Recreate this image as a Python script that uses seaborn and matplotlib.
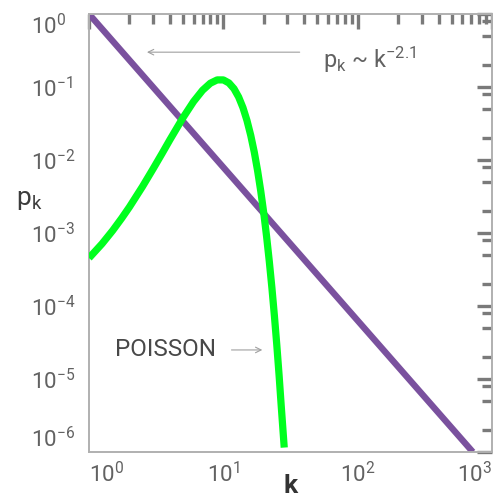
import numpy as np
import pandas as pd
import matplotlib
matplotlib.use("Agg")
import matplotlib.pyplot as plt
import seaborn as sns

# ---- data ----
power_k = [1.0, 10.0, 100.0, 720.0]
power_p = [1.0, 7.94e-3, 6.31e-5, 1.0e-6]

poisson_k = [1.0, 1.25, 1.5, 1.75, 2.0, 2.5, 3.0, 3.5, 4.0, 5.0, 6.0, 7.0, 8.0,
             9.0, 10.0, 11.0, 12.0, 13.0, 14.0, 15.0, 16.0, 17.0, 18.0, 19.0,
             20.0, 21.0, 22.0, 23.0, 24.0, 25.0, 26.0, 27.0, 28.4]
poisson_p = [4.54e-4, 7.12e-4, 1.08e-3, 1.59e-3, 2.27e-3, 4.32e-3, 7.57e-3, 1.23e-2,
             1.89e-2, 3.78e-2, 6.31e-2, 9.01e-2, 0.1126, 0.1251, 0.1251, 0.1137,
             0.0948, 0.0729, 0.0521, 0.0347, 0.0217, 0.0128, 7.09e-3, 3.73e-3,
             1.87e-3, 8.89e-4, 4.04e-4, 1.76e-4, 7.32e-5, 2.93e-5, 1.13e-5,
             4.17e-6, 1.15e-6]

x_ticks = [1, 10, 100, 1000]
x_tick_labels = [r"$\mathrm{10^{0}}$", r"$\mathrm{10^{1}}$", r"$\mathrm{10^{2}}$", r"$\mathrm{10^{3}}$"]
y_ticks = [1, 1e-1, 1e-2, 1e-3, 1e-4, 1e-5, 1e-6]
y_tick_labels = [r"$\mathrm{10^{0}}$", r"$\mathrm{10^{-1}}$", r"$\mathrm{10^{-2}}$", r"$\mathrm{10^{-3}}$",
                 r"$\mathrm{10^{-4}}$", r"$\mathrm{10^{-5}}$", r"$\mathrm{10^{-6}}$"]

# ---- style ----
sns.set_style("white")
plt.rcParams["font.family"] = ["Roboto", "DejaVu Sans"]
plt.rcParams["mathtext.fontset"] = "custom"
plt.rcParams["mathtext.rm"] = "Roboto"
plt.rcParams["mathtext.it"] = "Roboto"
plt.rcParams["mathtext.bf"] = "Roboto:bold"

TXT = "#626262"
TICK = "#7a7a7a"
SPINE = "#b0b0b0"

fig = plt.figure(figsize=(4.93, 5.0), dpi=100)
ax = fig.add_axes([89 / 493, 48 / 500, (492 - 89) / 493, (452 - 14) / 500])

df_pow = pd.DataFrame({"k": power_k, "p": power_p})
df_poi = pd.DataFrame({"k": poisson_k, "p": poisson_p})

sns.lineplot(data=df_pow, x="k", y="p", ax=ax, color="#7a519e", linewidth=4.6,
             solid_capstyle="butt", zorder=2)
sns.lineplot(data=df_poi, x="k", y="p", ax=ax, color="#00ff1e", linewidth=5.2,
             solid_capstyle="butt", zorder=3)

ax.set_xscale("log")
ax.set_yscale("log")
ax.set_xlim(1, 1000)
ax.set_ylim(1e-6, 1)

# ticks
from matplotlib.ticker import FixedLocator, FixedFormatter, NullFormatter
ax.xaxis.set_major_locator(FixedLocator(x_ticks))
ax.xaxis.set_major_formatter(FixedFormatter(x_tick_labels))
x_minor = [m * 10 ** e for e in range(0, 3) for m in range(2, 10)]
ax.xaxis.set_minor_locator(FixedLocator(x_minor))
ax.xaxis.set_minor_formatter(NullFormatter())

ax.yaxis.set_major_locator(FixedLocator(y_ticks))
ax.yaxis.set_major_formatter(FixedFormatter(y_tick_labels))
y_minor = [m * 10.0 ** e for e in range(-7, 1) for m in (2, 5, 8)]
y_minor = [v for v in y_minor if 1e-6 < v < 1]
ax.yaxis.set_minor_locator(FixedLocator(y_minor))
ax.yaxis.set_minor_formatter(NullFormatter())

ax.tick_params(which="both", direction="in", top=True, right=True, color=TICK,
               labelcolor=TXT, labelsize=16)
ax.tick_params(which="major", length=11, width=2.4)
ax.tick_params(which="minor", length=7.5, width=2.4)
ax.tick_params(axis="x", which="major", pad=7)
ax.tick_params(axis="y", which="major", pad=42)
for lbl in ax.get_yticklabels():
    lbl.set_horizontalalignment("left")
ylbls = ax.get_yticklabels()
ylbls[0].set_verticalalignment("top")
ylbls[-1].set_verticalalignment("bottom")
xlbls = ax.get_xticklabels()
xlbls[0].set_horizontalalignment("left")
xlbls[-1].set_horizontalalignment("right")

for s in ax.spines.values():
    s.set_color(SPINE)
    s.set_linewidth(1.4)

ax.set_xlabel("k", fontsize=19, fontweight="bold", color="#333333")
ax.xaxis.set_label_coords(0.5, -0.05)
ax.set_ylabel(r"p$_\mathregular{k}$", fontsize=19, fontweight="normal", color="#3c3c3c",
              rotation=0, va="center", ha="left")
ax.yaxis.set_label_coords(-0.18, 0.575)

# annotations
ax.annotate("", xy=(2.7, 0.30), xytext=(37.0, 0.30),
            arrowprops=dict(arrowstyle="->", color="#a0a0a0", lw=0.8,
                            shrinkA=0, shrinkB=0, mutation_scale=10))
ax.text(55, 0.235, r"p$_\mathregular{k}$ ~ k$^{-2.1}$", fontsize=17, color=TXT,
        va="center", ha="left")

ax.text(1.55, 2.5e-5, "POISSON", fontsize=17.5, color="#484848", va="center", ha="left")
ax.annotate("", xy=(19.5, 2.5e-5), xytext=(11.5, 2.5e-5),
            arrowprops=dict(arrowstyle="->", color="#a0a0a0", lw=0.8,
                            shrinkA=0, shrinkB=0, mutation_scale=10))

fig.savefig("out.png", dpi=100)
